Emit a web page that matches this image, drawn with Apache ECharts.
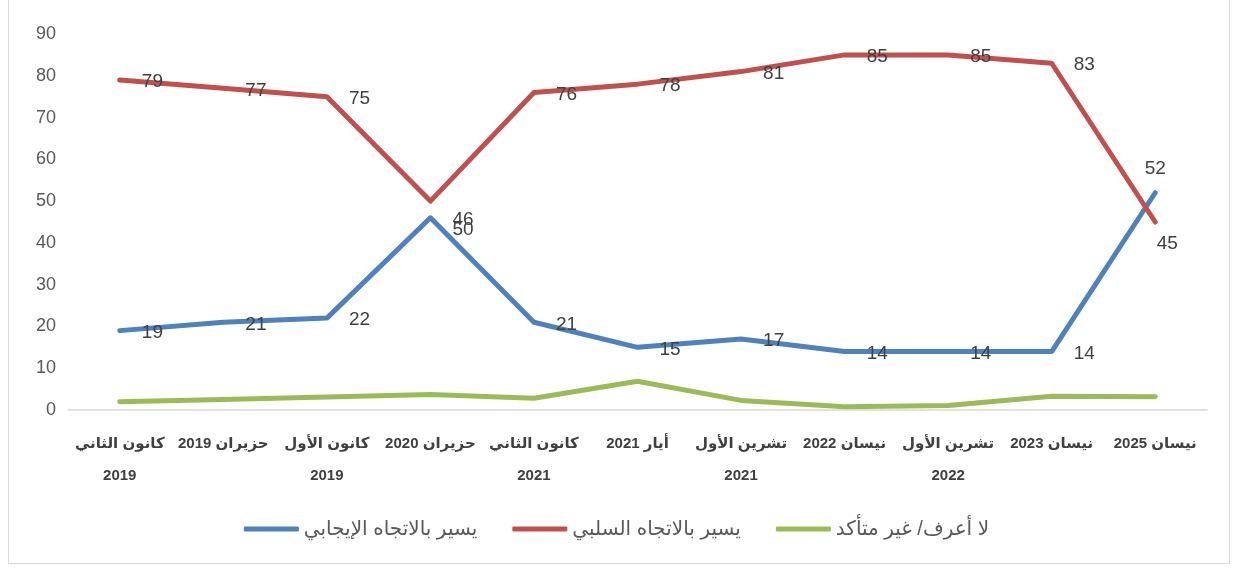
<!DOCTYPE html>
<html>
<head>
<meta charset="utf-8">
<script src="https://cdn.jsdelivr.net/npm/echarts@6/dist/echarts.min.js"></script>
<style>
  html, body { margin: 0; padding: 0; background: #fff; }
  #frame { position: absolute; left: 8px; top: -2px; width: 1222px; height: 566px; border: 1px solid #d9d9d9; box-sizing: border-box; }
  #chart { position: absolute; left: 0; top: 0; width: 1233px; height: 568px; }
</style>
</head>
<body>
<div id="frame"></div>
<div id="chart"></div>
<script>
// الفترات
var categories = [
  'كانون الثاني\n2019', 'حزيران 2019', 'كانون الأول\n2019', 'حزيران 2020',
  'كانون الثاني\n2021', 'أيار 2021', 'تشرين الأول\n2021', 'نيسان 2022',
  'تشرين الأول\n2022', 'نيسان 2023', 'نيسان 2025'
];
var seriesNames = ['يسير بالاتجاه الإيجابي', 'يسير بالاتجاه السلبي', 'لا أعرف/ غير متأكد'];
var positive = [19, 21, 22, 46, 21, 15, 17, 14, 14, 14, 52];
var negative = [79, 77, 75, 50, 76, 78, 81, 85, 85, 83, 45];
var unsure = [2, 2.5, 3.1, 3.7, 2.8, 6.9, 2.3, 0.8, 1.1, 3.3, 3.2];
var yTicks = [0, 10, 20, 30, 40, 50, 60, 70, 80, 90];

var colors = ['#4f81bd', '#c0504d', '#9bbb59'];
var font = 'Liberation Sans, DejaVu Sans, sans-serif';

// label overrides where the label sits off to the side
function withLabels(values, special) {
  return values.map(function (v, i) {
    if (special[i]) return { value: v, label: special[i] };
    return v;
  });
}

var chart = echarts.init(document.getElementById('chart'));
var lbl = { show: true, position: 'right', distance: 22, offset: [0, 2], fontSize: 19, color: '#404040', fontFamily: font };

chart.setOption({
  animation: false,
  color: colors,
  grid: { left: 68, right: 26, top: 34, bottom: 158, containLabel: false },
  legend: {
    bottom: 24,
    left: 'center',
    icon: 'roundRect',
    itemWidth: 55,
    itemHeight: 5,
    itemGap: 35,
    textStyle: { fontSize: 20, color: '#595959', fontFamily: font },
    data: seriesNames
  },
  xAxis: {
    type: 'category',
    data: categories,
    boundaryGap: true,
    axisLine: { lineStyle: { color: '#d9d9d9', width: 1.5 } },
    axisTick: { show: false },
    axisLabel: {
      interval: 0,
      margin: 18,
      fontSize: 15,
      fontWeight: 'bold',
      color: '#404040',
      lineHeight: 32,
      fontFamily: font
    }
  },
  yAxis: {
    type: 'value',
    min: yTicks[0],
    max: yTicks[yTicks.length - 1],
    interval: 10,
    splitLine: { show: false },
    axisLine: { show: false },
    axisTick: { show: false },
    axisLabel: { fontSize: 18, color: '#595959', margin: 12, fontFamily: font }
  },
  series: [
    {
      name: seriesNames[0], type: 'line', showSymbol: true, symbol: 'circle', symbolSize: 0.1,
      lineStyle: { width: 5, cap: 'round', join: 'round' },
      label: lbl,
      data: withLabels(positive, {
        10: { position: 'top', distance: 14, offset: [0, 0] }
      })
    },
    {
      name: seriesNames[1], type: 'line', showSymbol: true, symbol: 'circle', symbolSize: 0.1,
      lineStyle: { width: 5, cap: 'round', join: 'round' },
      label: lbl,
      data: withLabels(negative, {
        3: { position: 'right', distance: 22, offset: [0, 29] },
        10: { position: 'bottom', distance: 12, offset: [12, 0] }
      })
    },
    {
      name: seriesNames[2], type: 'line', showSymbol: false, symbol: 'none',
      lineStyle: { width: 5, cap: 'round', join: 'round' },
      data: unsure
    }
  ]
});
</script>
</body>
</html>
